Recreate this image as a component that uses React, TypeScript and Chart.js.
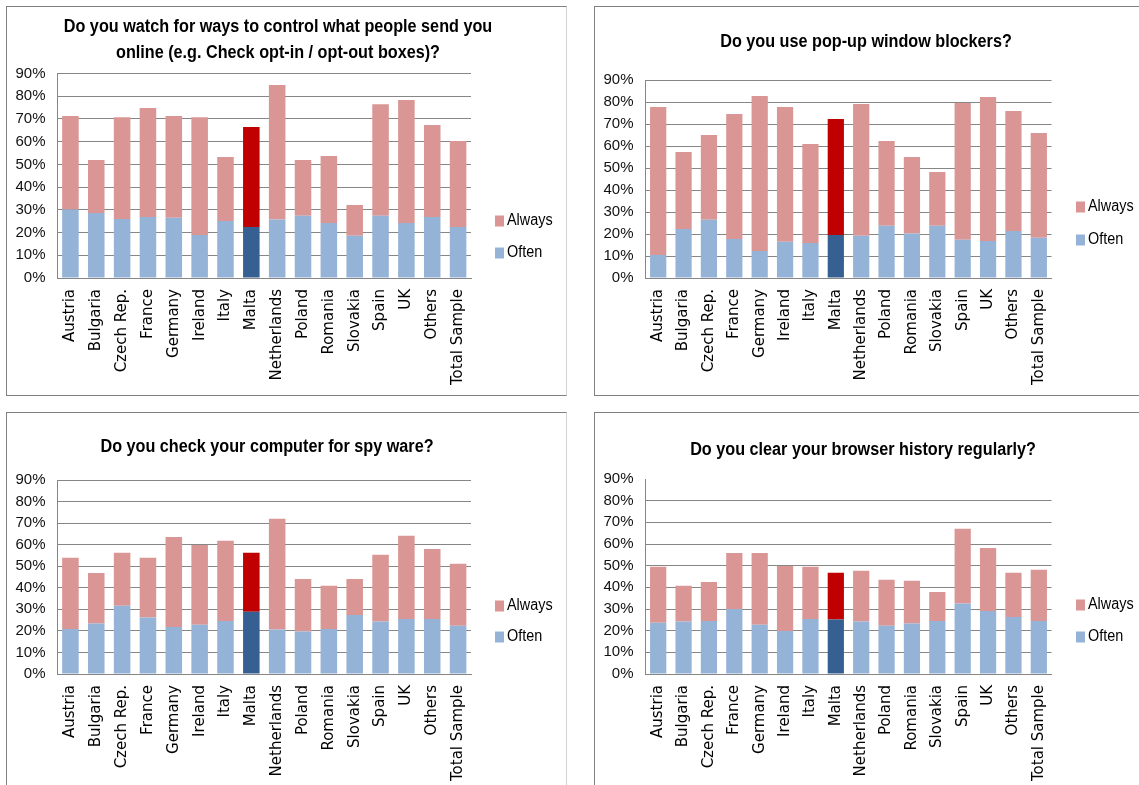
import React, { useEffect, useRef } from "react";
import { Chart, registerables } from "chart.js";
Chart.register(...registerables);

const categories = [
  "Austria", "Bulgaria", "Czech Rep.", "France", "Germany", "Ireland", "Italy", "Malta",
  "Netherlands", "Poland", "Romania", "Slovakia", "Spain", "UK", "Others", "Total Sample",
];
const seriesNames = ["Always", "Often"];
const yMin = 0;
const yMax = 90;
const yStep = 10;
const highlighted = "Malta";

const titleWatch = ["Do you watch for ways to control what people send you", "online (e.g. Check opt-in / opt-out boxes)?"];
const watchOften = [30.1, 28.6, 26.0, 26.8, 26.5, 18.9, 25.1, 22.4, 25.7, 27.4, 24.2, 18.6, 27.4, 24.2, 26.8, 22.4];
const watchAlways = [41.2, 23.3, 44.8, 48.0, 44.8, 51.9, 28.1, 44.0, 59.2, 24.5, 29.5, 13.5, 49.1, 54.1, 40.5, 37.9];

const titlePopup = ["Do you use pop-up window blockers?"];
const popupOften = [10.5, 22.3, 26.5, 17.7, 12.3, 16.5, 15.9, 19.5, 19.2, 23.8, 20.2, 23.8, 17.4, 16.8, 21.4, 18.3];
const popupAlways = [67.2, 35.0, 38.5, 56.8, 70.4, 61.2, 45.0, 52.8, 59.9, 38.5, 34.8, 24.4, 62.1, 65.5, 54.5, 47.6];

const titleSpy = ["Do you check your computer for spy ware?"];
const spyOften = [20.9, 23.4, 31.7, 26.2, 21.8, 22.8, 24.6, 28.9, 20.6, 19.7, 20.9, 27.4, 24.3, 25.5, 25.5, 22.4];
const spyAlways = [33.0, 23.5, 24.5, 27.7, 41.8, 37.0, 37.2, 27.3, 51.4, 24.4, 20.0, 16.7, 31.0, 38.6, 32.5, 28.7];

const titleHistory = ["Do you clear your browser history regularly?"];
const historyOften = [23.6, 24.2, 24.5, 30.0, 22.7, 19.9, 25.4, 25.1, 24.2, 22.3, 23.3, 24.5, 32.5, 29.1, 26.3, 24.5];
const historyAlways = [25.9, 16.5, 18.0, 25.9, 33.2, 30.0, 24.1, 21.6, 23.4, 21.2, 19.7, 13.4, 34.5, 29.1, 20.4, 23.6];

const ALWAYS = "#D99694";
const OFTEN = "#95B3D7";
const ALWAYS_HI = "#C00000";
const OFTEN_HI = "#366092";
const GRID = "#868686";
const SANS = "'Liberation Sans', Arial, sans-serif";
const WIDE = "'DejaVu Sans', Verdana, sans-serif";
const CONDENSE = 0.9;

type PanelCfg = {
  box: { left: number; top: number; width: number; height: number };
  canvas: { x: number; y: number; w: number; h: number };
  plot: { left: number; right: number; top: number; bottom: number };
  title: string[];
  titleX: number;
  titleY: number[];
  legendX: number;
  legendY: number[];
  often: number[];
  always: number[];
  hideTopGrid?: boolean;
  borders: { right: boolean; bottom: boolean };
};

const panels: PanelCfg[] = [
  {
    box: { left: 6, top: 6, width: 561, height: 390 },
    canvas: { x: 7, y: 7, w: 559, h: 388 },
    plot: { left: 57.5, right: 471, top: 73.5, bottom: 278 },
    title: titleWatch, titleX: 278, titleY: [27, 53],
    legendX: 495, legendY: [221, 253],
    often: watchOften, always: watchAlways,
    borders: { right: true, bottom: true },
  },
  {
    box: { left: 594, top: 6, width: 560, height: 390 },
    canvas: { x: 595, y: 7, w: 544, h: 388 },
    plot: { left: 645.5, right: 1051.5, top: 80, bottom: 278 },
    title: titlePopup, titleX: 866, titleY: [42],
    legendX: 1076, legendY: [207, 240],
    often: popupOften, always: popupAlways,
    borders: { right: false, bottom: true },
  },
  {
    box: { left: 6, top: 412, width: 561, height: 400 },
    canvas: { x: 7, y: 413, w: 559, h: 372 },
    plot: { left: 57.5, right: 471, top: 480, bottom: 674 },
    title: titleSpy, titleX: 267, titleY: [447],
    legendX: 495, legendY: [606, 637],
    often: spyOften, always: spyAlways,
    borders: { right: true, bottom: false },
  },
  {
    box: { left: 594, top: 412, width: 560, height: 400 },
    canvas: { x: 595, y: 413, w: 544, h: 372 },
    plot: { left: 645.5, right: 1051.5, top: 479, bottom: 674 },
    title: titleHistory, titleX: 863, titleY: [450],
    legendX: 1076, legendY: [605, 637],
    often: historyOften, always: historyAlways,
    hideTopGrid: true,
    borders: { right: false, bottom: false },
  },
];

function Panel({ cfg }: { cfg: PanelCfg }) {
  const ref = useRef<HTMLCanvasElement | null>(null);
  useEffect(() => {
    const canvas = ref.current;
    if (!canvas) return;
    const c = cfg.canvas;
    const yWidth = cfg.plot.left - c.x;
    const padRight = c.x + c.w - cfg.plot.right;
    const padTop = cfg.plot.top - c.y;
    const xHeight = c.y + c.h - cfg.plot.bottom;

    const overlay = {
      id: "overlay",
      afterDraw(chart: any) {
        const ctx = chart.ctx;
        ctx.save();
        ctx.fillStyle = "#000";
        ctx.textAlign = "center";
        ctx.textBaseline = "middle";
        ctx.font = `bold 18px ${SANS}`;
        cfg.title.forEach((line, i) => {
          ctx.save();
          ctx.translate(cfg.titleX - c.x, cfg.titleY[i] - c.y);
          ctx.scale(CONDENSE, 1);
          ctx.fillText(line, 0, 0);
          ctx.restore();
        });
        const colors = [ALWAYS, OFTEN];
        ctx.textAlign = "left";
        ctx.font = `16px ${SANS}`;
        seriesNames.forEach((name, i) => {
          const ly = cfg.legendY[i] - c.y;
          ctx.fillStyle = colors[i];
          ctx.fillRect(cfg.legendX - c.x, ly - 5.5, 9, 11);
          ctx.fillStyle = "#000";
          ctx.save();
          ctx.translate(cfg.legendX - c.x + 12, ly);
          ctx.scale(CONDENSE, 1);
          ctx.fillText(name, 0, 0);
          ctx.restore();
        });
        ctx.restore();
      },
    };

    const chart = new Chart(canvas, {
      type: "bar",
      data: {
        labels: categories,
        datasets: [
          {
            label: seriesNames[1],
            data: cfg.often,
            backgroundColor: categories.map((k) => (k === highlighted ? OFTEN_HI : OFTEN)),
            categoryPercentage: 0.64,
            barPercentage: 1,
          },
          {
            label: seriesNames[0],
            data: cfg.always,
            backgroundColor: categories.map((k) => (k === highlighted ? ALWAYS_HI : ALWAYS)),
            categoryPercentage: 0.64,
            barPercentage: 1,
          },
        ],
      },
      options: {
        animation: false,
        responsive: false,
        layout: { padding: { left: 0, right: padRight, top: padTop, bottom: 0 } },
        plugins: { legend: { display: false }, title: { display: false }, tooltip: { enabled: false } },
        scales: {
          x: {
            stacked: true,
            grid: { display: false, drawTicks: false },
            border: { display: true, color: GRID, width: 1 },
            ticks: {
              autoSkip: false,
              maxRotation: 90,
              minRotation: 90,
              padding: 11,
              color: "#000",
              font: { family: WIDE, size: 15 },
            },
            afterFit: (s: any) => {
              s.height = xHeight;
              s.paddingLeft = 0;
              s.paddingRight = 0;
            },
          },
          y: {
            stacked: true,
            min: yMin,
            max: yMax,
            grid: {
              drawTicks: false,
              color: (ctx: any) => (cfg.hideTopGrid && ctx.tick && ctx.tick.value === yMax ? "rgba(0,0,0,0)" : GRID),
              lineWidth: 1,
            },
            border: { display: true, color: GRID, width: 1 },
            ticks: {
              autoSkip: false,
              stepSize: yStep,
              padding: 12,
              color: "#111",
              font: { family: SANS, size: 15 },
              callback: (v: any) => v + "%",
            },
            afterFit: (s: any) => {
              s.width = yWidth;
              s.paddingTop = 0;
              s.paddingBottom = 0;
            },
          },
        },
      },
      plugins: [overlay],
    });
    return () => chart.destroy();
  }, [cfg]);

  const b = cfg.box;
  return (
    <>
      <div
        style={{
          position: "absolute",
          left: b.left,
          top: b.top,
          width: b.width,
          height: b.height,
          boxSizing: "border-box",
          borderLeft: "1px solid #808080",
          borderTop: "1px solid #808080",
          borderBottom: cfg.borders.bottom ? "1px solid #808080" : "none",
          borderRight: cfg.borders.right ? "1px solid #d4d4d4" : "none",
        }}
      />
      <canvas
        ref={ref}
        width={cfg.canvas.w}
        height={cfg.canvas.h}
        style={{ position: "absolute", left: cfg.canvas.x, top: cfg.canvas.y, width: cfg.canvas.w, height: cfg.canvas.h }}
      />
    </>
  );
}

export default function App() {
  return (
    <div
      style={{
        position: "absolute",
        left: 0,
        top: 0,
        width: 1139,
        height: 785,
        overflow: "hidden",
        background: "#fff",
      }}
    >
      {panels.map((p, i) => (
        <Panel key={i} cfg={p} />
      ))}
    </div>
  );
}
